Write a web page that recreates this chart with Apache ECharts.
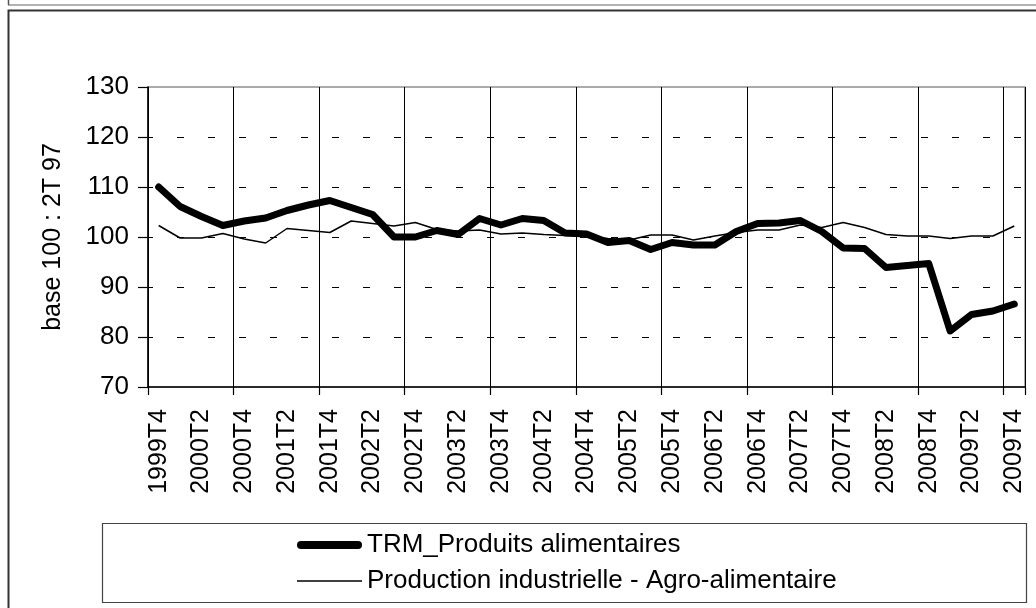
<!DOCTYPE html>
<html>
<head>
<meta charset="utf-8">
<script src="https://cdn.jsdelivr.net/npm/echarts@6/dist/echarts.min.js"></script>
<style>
html,body{margin:0;padding:0;background:#fff;}
#chart{width:1036px;height:608px;}
</style>
</head>
<body>
<div id="chart"></div>
<script>
const categories = ['1999T4',
  '2000T1','2000T2','2000T3','2000T4',
  '2001T1','2001T2','2001T3','2001T4',
  '2002T1','2002T2','2002T3','2002T4',
  '2003T1','2003T2','2003T3','2003T4',
  '2004T1','2004T2','2004T3','2004T4',
  '2005T1','2005T2','2005T3','2005T4',
  '2006T1','2006T2','2006T3','2006T4',
  '2007T1','2007T2','2007T3','2007T4',
  '2008T1','2008T2','2008T3','2008T4',
  '2009T1','2009T2','2009T3','2009T4'];

const trmProduitsAlimentaires = [110.0,
  106.1,104.1,102.3,103.2,
  103.8,105.3,106.4,107.3,
  105.9,104.5,100.0,100.0,
  101.3,100.5,103.7,102.4,
  103.7,103.3,100.8,100.6,
  98.9,99.3,97.5,98.9,
  98.4,98.4,101.1,102.7,
  102.8,103.3,101.1,97.8,
  97.7,93.9,94.3,94.7,
  81.2,84.5,85.2,86.6];

const productionAgroAlimentaire = [102.3,
  99.8,99.8,100.7,99.6,
  98.8,101.7,101.3,100.9,
  103.2,102.7,102.2,102.9,
  101.5,101.2,101.4,100.6,
  100.8,100.5,100.3,100.2,
  99.7,99.4,100.4,100.4,
  99.4,100.2,100.9,101.4,
  101.4,102.4,101.9,102.9,
  101.9,100.5,100.2,100.2,
  99.7,100.2,100.2,102.2];

const seriesNames = ['TRM_Produits alimentaires', 'Production industrielle - Agro-alimentaire'];
const yAxisTitle = 'base 100 : 2T 97';
const yMin = 70, yMax = 130, yStep = 10;

const FONT = '"Liberation Sans", Arial, sans-serif';
const chart = echarts.init(document.getElementById('chart'), null, {renderer: 'canvas'});

chart.setOption({
  animation: false,
  backgroundColor: '#fff',
  textStyle: {fontFamily: FONT, color: '#000'},
  graphic: [
    {type: 'line', shape: {x1: 8, y1: 5, x2: 1036, y2: 5}, style: {stroke: '#9a9a9a', lineWidth: 1.5}, z: 10},
    {type: 'line', shape: {x1: 8.5, y1: 0, x2: 8.5, y2: 5}, style: {stroke: '#555', lineWidth: 1.5}, z: 10},
    {type: 'rect', shape: {x: 8.5, y: 10.5, width: 1040, height: 620}, style: {fill: null, stroke: '#333', lineWidth: 2}, z: 10},
    {type: 'rect', shape: {x: 102.5, y: 523.5, width: 924, height: 79}, style: {fill: null, stroke: '#444', lineWidth: 1.2}, z: 10}
  ],
  grid: {
    left: 148, top: 87, right: 11, bottom: 221,
    show: true, borderColor: '#8f8f8f', borderWidth: 1.5, containLabel: false
  },
  legend: {
    orient: 'vertical',
    left: 292, top: 527,
    itemWidth: 65, itemHeight: 26, itemGap: 10,
    textStyle: {fontFamily: FONT, fontSize: 26, lineHeight: 26, color: '#000'},
    data: [
      {name: seriesNames[0], icon: 'path://M4,0 L61,0 A4,4 0 0 1 61,8 L4,8 A4,4 0 0 1 4,0 Z', itemStyle: {color: '#000'}},
      {name: seriesNames[1], icon: 'path://M3,0 L63,0 L63,1.6 L3,1.6 Z', itemStyle: {color: '#000'}}
    ]
  },
  xAxis: {
    type: 'category',
    data: categories,
    boundaryGap: true,
    axisLine: {lineStyle: {color: '#000', width: 1.5}},
    axisTick: {show: true, interval: 3, length: 8, lineStyle: {color: '#000', width: 1.2}},
    axisLabel: {interval: 1, rotate: 90, margin: 22, fontSize: 25, color: '#000', fontFamily: FONT},
    splitLine: {show: true, interval: 3, lineStyle: {color: '#000', width: 1, type: 'solid'}}
  },
  yAxis: {
    type: 'value',
    min: yMin, max: yMax, interval: yStep,
    name: yAxisTitle,
    nameLocation: 'middle',
    nameRotate: 90,
    nameGap: 82,
    nameTextStyle: {fontSize: 25, color: '#000', fontFamily: FONT},
    axisLine: {show: true, lineStyle: {color: '#000', width: 1.5}},
    axisTick: {show: true, length: 10, lineStyle: {color: '#000', width: 1.2}},
    axisLabel: {margin: 19, fontSize: 26, color: '#000', fontFamily: FONT},
    splitLine: {show: true, showMinLine: false, showMaxLine: false,
      lineStyle: {color: '#000', width: 1.2, type: [7, 24], dashOffset: 2}}
  },
  series: [
    {
      name: seriesNames[0], type: 'line', data: trmProduitsAlimentaires,
      symbol: 'none', z: 4,
      lineStyle: {color: '#000', width: 7, join: 'round', cap: 'round'},
      itemStyle: {color: '#000'}
    },
    {
      name: seriesNames[1], type: 'line', data: productionAgroAlimentaire,
      symbol: 'none', z: 3,
      lineStyle: {color: '#000', width: 1.5},
      itemStyle: {color: '#000'}
    }
  ]
});
</script>
</body>
</html>
